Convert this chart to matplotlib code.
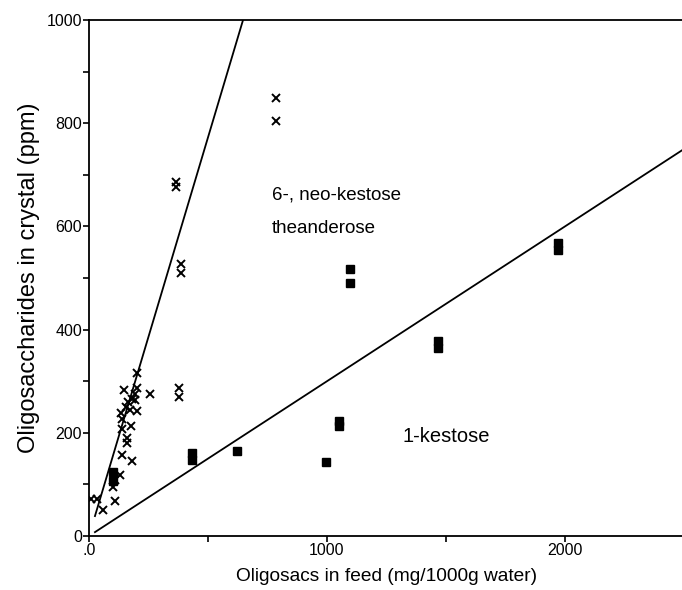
import numpy as np
import matplotlib
matplotlib.use('Agg')
import matplotlib.pyplot as plt

plt.rcParams['font.family'] = ['Liberation Sans', 'DejaVu Sans']

# 6-, neo-kestose / theanderose (crosses)
neo_x = [7, 32, 57, 109, 102, 130, 109, 137, 179, 161, 161, 137, 175, 137, 133,
         172, 200, 165, 193, 148, 200, 193, 200, 256, 380, 380, 364, 364, 387, 387,
         786, 786, 180, 155]
neo_y = [72, 72, 50, 68, 95, 118, 108, 157, 146, 189, 181, 208, 213, 227, 239,
         244, 243, 260, 263, 283, 286, 276, 315, 275, 286, 269, 686, 677, 528, 509,
         849, 804, 266, 250]

# 1-kestose (filled squares)
kes_x = [102, 102, 431, 431, 623, 996, 1050, 1050, 1097, 1097, 1468, 1468, 1972, 1972]
kes_y = [124, 106, 160, 148, 165, 143, 222, 214, 518, 490, 377, 364, 567, 555]

# fitted lines through origin
neo_slope = 1.545
kes_slope = 0.30
line_start = 25
neo_end = 1000 / neo_slope
kes_end = 2500

fig = plt.figure(figsize=(6.82, 5.90), dpi=100)
ax = fig.add_axes([89 / 682, 54 / 590, 595 / 682, 516 / 590])

xs = np.array([line_start, neo_end])
ax.plot(xs, neo_slope * xs, color='black', lw=1.3)
xs = np.array([line_start, kes_end])
ax.plot(xs, kes_slope * xs, color='black', lw=1.3)

ax.plot(neo_x, neo_y, linestyle='none', marker='x', color='black',
        markersize=6.2, markeredgewidth=1.4)
ax.plot(kes_x, kes_y, linestyle='none', marker='s', color='black',
        markersize=5.6)

ax.text(769, 660, '6-, neo-kestose', fontsize=13.5, va='center', ha='left')
ax.text(769, 596, 'theanderose', fontsize=13.5, va='center', ha='left')
ax.text(1319, 192, '1-kestose', fontsize=14.5, va='center', ha='left')

ax.set_xlim(0, 2500)
ax.set_ylim(0, 1000)
ax.set_xticks([0, 1000, 2000])
ax.set_xticklabels(['.0', '1000', '2000'])
ax.set_xticks([500, 1500, 2500], minor=True)
ax.set_yticks([0, 200, 400, 600, 800, 1000])
ax.set_yticks([100, 300, 500, 700, 900], minor=True)

ax.tick_params(which='both', direction='out', length=4, width=1.2, labelsize=11.5,
               pad=1)
ax.spines['right'].set_visible(False)
for s in ['left', 'bottom', 'top']:
    ax.spines[s].set_linewidth(1.3)

ax.set_xlabel('Oligosacs in feed (mg/1000g water)', fontsize=13.8, labelpad=7)
ax.set_ylabel('Oligosaccharides in crystal (ppm)', fontsize=17, labelpad=5)

plt.savefig('out.png', dpi=100)
